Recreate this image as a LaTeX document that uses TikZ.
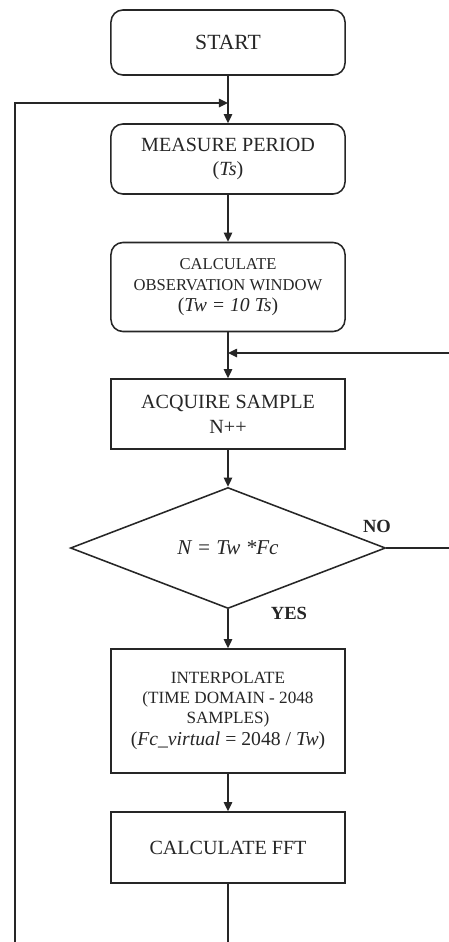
\documentclass[tikz,border=0pt]{standalone}
\usepackage{fontspec}
\setmainfont{Liberation Serif}
\usetikzlibrary{arrows.meta,shapes.geometric}
\definecolor{ink}{HTML}{262626}
\tikzset{
  roundbox/.style={draw=ink, line width=1.1pt, rounded corners=8.5pt, minimum width=5.85cm,
                   align=center, text=ink, inner sep=2pt,
                   font=\fontsize{14.3}{17.7}\selectfont},
  procbox/.style={roundbox, sharp corners},
  decision/.style={diamond, draw=ink, line width=1.1pt, minimum width=7.875cm,
                   minimum height=3.025cm, inner sep=0pt, text=ink,
                   font=\fontsize{15}{18}\selectfont\itshape},
  flow/.style={-{Triangle[length=6.5pt,width=6pt]}, line width=1.1pt, draw=ink},
  tag/.style={font=\fontsize{13.2}{15}\selectfont\bfseries, text=ink}
}

\begin{document}
\begin{tikzpicture}[x=0.025cm,y=-0.025cm]
  \path[use as bounding box, fill=white] (0,0) rectangle (448,942);

  % boxes
  \node[roundbox, minimum height=1.625cm, font=\fontsize{15.4}{18}\selectfont] (start) at (228,42.5) {START};
  \node[roundbox, minimum height=1.75cm] (measure) at (228,159)
    {MEASURE PERIOD\\(\textit{Ts})};
  \node[roundbox, minimum height=2.225cm, font=\fontsize{11.8}{14.8}\selectfont] (window) at (228,287)
    {CALCULATE\\OBSERVATION WINDOW\\{\fontsize{14}{14.8}\selectfont(\textit{Tw = 10 Ts})}};
  \node[procbox, minimum height=1.75cm] (acquire) at (228,414)
    {ACQUIRE SAMPLE\\N++};
  \node[decision] (check) at (228,548) {N = Tw *Fc};
  \node[procbox, minimum height=3.1cm, font=\fontsize{12.2}{14.2}\selectfont] (interp) at (228,711)
    {INTERPOLATE\\(TIME DOMAIN - 2048\\SAMPLES)\\[2pt]
     {\fontsize{14}{16}\selectfont(\textit{Fc\_virtual} = 2048 / \textit{Tw})}};
  \node[procbox, minimum height=1.775cm] (fft) at (228,847.5) {CALCULATE FFT};

  % labels
  \node[tag] (no) at (377,526) {NO};
  \node[tag] (yes) at (289,613) {YES};

  % joins
  \coordinate (loopin) at (228,103);
  \coordinate (waitin) at (228,353);
  \coordinate (rightcol) at (452,548);
  \coordinate (botrow) at (228,965);

  % connectors
  \draw[flow] (start) -- (measure);
  \draw[flow] (measure) -- (window);
  \draw[flow] (window) -- (acquire);
  \draw[flow] (acquire) -- (check);
  \draw[flow] (check) -- (interp);
  \draw[flow] (interp) -- (fft);
  \draw[flow] (check.east) -- (rightcol) |- (waitin);
  \draw[flow] (fft) -- (botrow) -| (15,500) |- (loopin);
\end{tikzpicture}
\end{document}
